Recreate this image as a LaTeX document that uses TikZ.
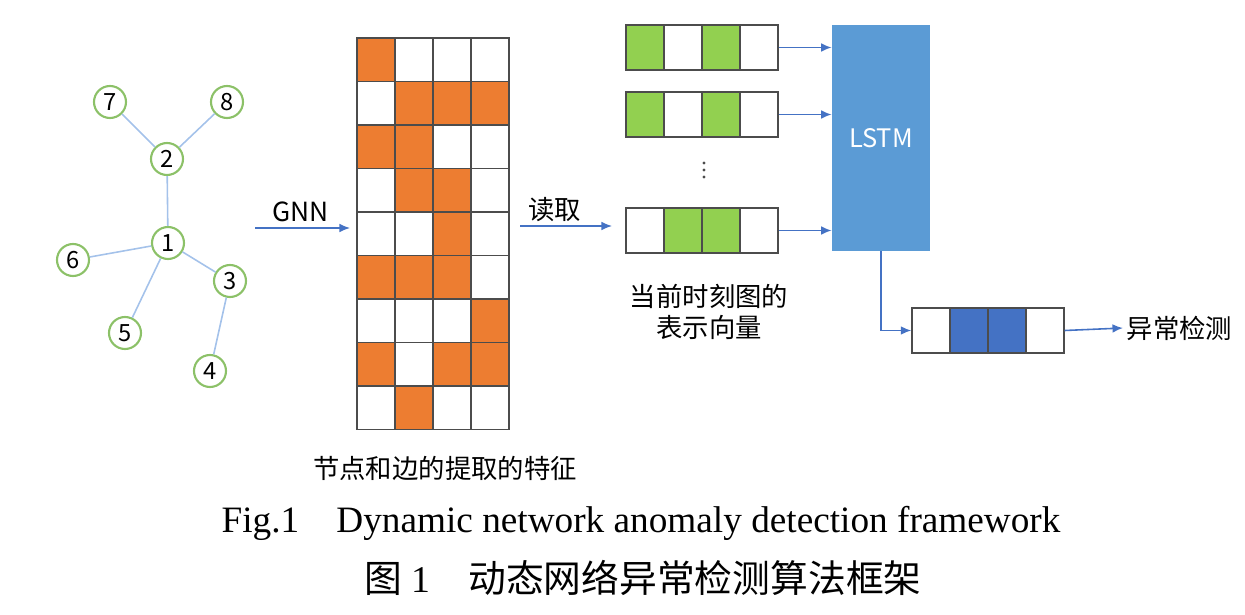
\documentclass[tikz,border=0pt]{standalone}
\usepackage{fontspec}
\setmainfont{Liberation Serif}
\newfontfamily\cjk{Noto Sans CJK SC}
\usetikzlibrary{arrows.meta,positioning}
\definecolor{edgeblue}{HTML}{A4C2EA}
\definecolor{nodegreen}{HTML}{8CC168}
\definecolor{cellorange}{HTML}{ED7D31}
\definecolor{cellgreen}{HTML}{92D050}
\definecolor{lstmblue}{HTML}{5B9BD5}
\definecolor{outblue}{HTML}{4472C4}
\tikzset{
    vertex/.style={
        draw=nodegreen,
        line width=1.2pt,
        circle,
        minimum size=0.64cm,
        inner sep=0pt,
        font=\cjk\fontsize{13.5}{13.5}\selectfont
    },
    link/.style={draw=edgeblue, line width=0.9pt},
    featcell/.style={
        draw=black!70,
        line width=0.8pt,
        minimum width=0.76cm,
        minimum height=0.87cm,
        inner sep=0pt
    },
    veccell/.style={
        draw=black!70,
        line width=0.8pt,
        minimum width=0.76cm,
        minimum height=0.9cm,
        inner sep=0pt
    },
    flow/.style={draw=outblue, line width=0.9pt, -{Latex[length=6pt,width=5pt]}},
    tag/.style={font=\cjk\fontsize{15}{18}\selectfont, inner sep=2pt}
}

\begin{document}
\begin{tikzpicture}[x=0.02cm, y=-0.02cm]
  \useasboundingbox (0,0) rectangle (1245,615);

  % input graph
  \node[vertex] (n7) at (110,102) {7};
  \node[vertex] (n8) at (227,102) {8};
  \node[vertex] (n2) at (167,159) {2};
  \node[vertex] (n1) at (168,243) {1};
  \node[vertex] (n6) at (73,260) {6};
  \node[vertex] (n3) at (230,281) {3};
  \node[vertex] (n5) at (125,333) {5};
  \node[vertex] (n4) at (210,371) {4};
  \draw[link] (n7) -- (n2);
  \draw[link] (n8) -- (n2);
  \draw[link] (n2) -- (n1);
  \draw[link] (n1) -- (n6);
  \draw[link] (n1) -- (n5);
  \draw[link] (n1) -- (n3);
  \draw[link] (n3) -- (n4);

  \coordinate (gnnA) at (255,228);
  \coordinate (gnnB) at (350,228);
  \draw[flow] (gnnA) -- node[above, pos=0.48, font=\cjk\fontsize{15}{15}\selectfont] {GNN} (gnnB);

  % node and edge features
  \foreach \row [count=\r] in {{1,0,0,0},{0,1,1,1},{1,1,0,0},{0,1,1,0},{0,0,1,0},{1,1,1,0},{0,0,0,1},{1,0,1,1},{0,1,0,0}} {
    \foreach \v [count=\c] in \row {
      \ifnum\v=1 \def\fc{cellorange}\else\def\fc{white}\fi
      \node[featcell, fill=\fc] (m-\r-\c) at ({357+38*\c-19},{38+43.5*\r-21.75}) {};
    }
  }
  \node[tag] (feat) at (445,468) {节点和边的提取的特征};

  \coordinate (readA) at (520,226);
  \coordinate (readB) at (612,226);
  \draw[flow] (readA) -- node[above, pos=0.38, tag] {读取} (readB);

  % graph vectors
  \foreach \k/\ytop/\fa/\fb/\fcc/\fd in {1/25/cellgreen/white/cellgreen/white,
      2/92/cellgreen/white/cellgreen/white, 3/208/white/cellgreen/cellgreen/white} {
    \foreach \f [count=\c] in {\fa,\fb,\fcc,\fd}
      \node[veccell, fill=\f] (v\k-\c) at ({626+38*\c-19},{\ytop+22.5}) {};
  }
  \foreach \y in {163,170,177}
    \fill[black!70] (704,\y) circle (0.9pt);
  \node[tag, align=center, font=\cjk\fontsize{15}{17.6}\selectfont] (vec) at (709,312) {当前时刻图的\\表示向量};

  % LSTM
  \node[fill=lstmblue, minimum width=1.96cm, minimum height=4.52cm, text=white,
        font=\cjk\fontsize{14.5}{14.5}\selectfont] (lstm) at (881,138) {LSTM};
  \draw[flow] (v1-4.east) -- (v1-4.east -| lstm.west);
  \draw[flow] (v2-4.east) -- (v2-4.east -| lstm.west);
  \draw[flow] (v3-4.east) -- (v3-4.east -| lstm.west);

  % output
  \foreach \f [count=\c] in {white,outblue,outblue,white}
    \node[veccell, fill=\f] (o-\c) at ({912+38*\c-19},330.5) {};
  \draw[flow] (lstm.south) |- (o-1.west);
  \node[tag, anchor=west] (res) at (1123,328) {异常检测};
  \draw[flow] (o-4.east) -- (res.west);

  % caption
  \node[font=\fontsize{21.2}{21.2}\selectfont] (capen) at (641,523)
    {Fig.1\quad Dynamic network anomaly detection framework};
  \node[font=\fontsize{21.5}{21.5}\selectfont] (capzh) at (643,578)
    {{\cjk 图} 1\quad {\cjk 动态网络异常检测算法框架}};
\end{tikzpicture}
\end{document}
